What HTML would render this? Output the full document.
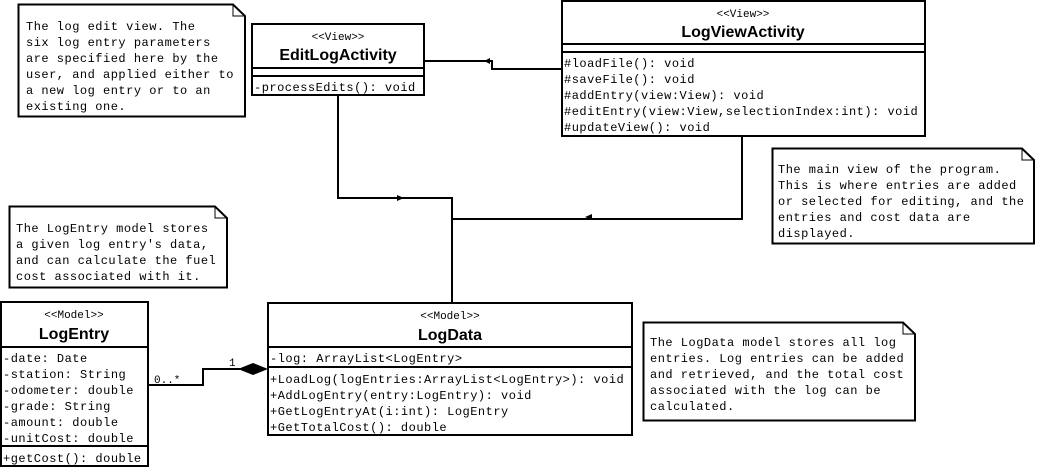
<!DOCTYPE html>
<html><head><meta charset="utf-8"><style>
html,body{margin:0;padding:0;background:#fff}
svg{display:block}
.m{font-family:"Liberation Mono",monospace;font-size:12px;letter-spacing:0.5px;fill:#000}
.s{font-family:"Liberation Mono",monospace;font-size:11px;fill:#000}
.n{font-family:"Liberation Sans Narrow","Liberation Sans",sans-serif;font-size:16px;font-weight:bold;fill:#000}
</style></head><body>
<svg width="1038" height="468" viewBox="0 0 1038 468" xmlns="http://www.w3.org/2000/svg">
<g fill="#fff" stroke="#000" stroke-width="2">
<path d="M18.5 4.5 H233 L245 16 V116.5 H18.5 Z"/>
<path d="M9.5 206.5 H215 L227 218 V287.5 H9.5 Z"/>
<path d="M772.5 148.5 H1022 L1034 160 V243.5 H772.5 Z"/>
<path d="M643.5 322.5 H903 L915 334 V420.5 H643.5 Z"/>
</g>
<g fill="none" stroke="#000" stroke-width="1">
<path d="M233 4.5 V16 H245"/><path d="M215 206.5 V218 H227"/>
<path d="M1022 148.5 V160 H1034"/><path d="M903 322.5 V334 H915"/>
</g>
<g fill="none" stroke="#000" stroke-width="2">
<path d="M562 69 H492 V61 H424"/>
<path d="M338 95 V198 H452 V303"/>
<path d="M742 135 V219 H452"/>
<path d="M148 385 H203 V369 H240"/>
</g>
<polygon points="484,58 490,61 484,64" fill="#000" transform="rotate(180 487 61)"/>
<polygon points="397,195 404,198 397,201" fill="#000"/>
<polygon points="592,216 585,219 592,222" fill="#000" transform="translate(0,-2)"/>
<polygon points="238,369 253,363 268,369 253,375" fill="#000"/>
<text class="s" x="154" y="383">0..*</text>
<text class="s" x="229" y="366">1</text>
<g fill="#fff" stroke="#000" stroke-width="2">
<rect x="252" y="24" width="172" height="71"/>
<rect x="562" y="1" width="363" height="135"/>
<rect x="1" y="302" width="147" height="164"/>
<rect x="268" y="303" width="364" height="132"/>
</g>
<g stroke="#000" stroke-width="2">
<line x1="252" y1="68" x2="424" y2="68"/><line x1="252" y1="76" x2="424" y2="76"/>
<line x1="562" y1="44" x2="925" y2="44"/><line x1="562" y1="52" x2="925" y2="52"/>
<line x1="1" y1="347" x2="148" y2="347"/><line x1="1" y1="446" x2="148" y2="446"/>
<line x1="268" y1="347" x2="632" y2="347"/><line x1="268" y1="367" x2="632" y2="367"/>
</g>
<g text-anchor="middle">
<text class="s" x="338" y="40">&lt;&lt;View&gt;&gt;</text><text class="n" x="338" y="60">EditLogActivity</text>
<text class="s" x="743" y="17">&lt;&lt;View&gt;&gt;</text><text class="n" x="743" y="37">LogViewActivity</text>
<text class="s" x="74" y="318">&lt;&lt;Model&gt;&gt;</text><text class="n" x="74" y="339">LogEntry</text>
<text class="s" x="450" y="319">&lt;&lt;Model&gt;&gt;</text><text class="n" x="450" y="340">LogData</text>
</g>
<g class="m">
<text x="254" y="91">-processEdits(): void</text>
<text x="564" y="67">#loadFile(): void</text>
<text x="564" y="83">#saveFile(): void</text>
<text x="564" y="99">#addEntry(view:View): void</text>
<text x="564" y="115">#editEntry(view:View,selectionIndex:int): void</text>
<text x="564" y="131">#updateView(): void</text>
<text x="3" y="362">-date: Date</text>
<text x="3" y="378">-station: String</text>
<text x="3" y="394">-odometer: double</text>
<text x="3" y="410">-grade: String</text>
<text x="3" y="426">-amount: double</text>
<text x="3" y="442">-unitCost: double</text>
<text x="3" y="462">+getCost(): double</text>
<text x="270" y="362">-log: ArrayList&lt;LogEntry&gt;</text>
<text x="270" y="383">+LoadLog(logEntries:ArrayList&lt;LogEntry&gt;): void</text>
<text x="270" y="399">+AddLogEntry(entry:LogEntry): void</text>
<text x="270" y="415">+GetLogEntryAt(i:int): LogEntry</text>
<text x="270" y="431">+GetTotalCost(): double</text>
<text x="26" y="30">The log edit view. The</text>
<text x="26" y="46">six log entry parameters</text>
<text x="26" y="62">are specified here by the</text>
<text x="26" y="78">user, and applied either to</text>
<text x="26" y="94">a new log entry or to an</text>
<text x="26" y="110">existing one.</text>
<text x="16" y="232">The LogEntry model stores</text>
<text x="16" y="248">a given log entry's data,</text>
<text x="16" y="264">and can calculate the fuel</text>
<text x="16" y="280">cost associated with it.</text>
<text x="778" y="173">The main view of the program.</text>
<text x="778" y="189">This is where entries are added</text>
<text x="778" y="205">or selected for editing, and the</text>
<text x="778" y="221">entries and cost data are</text>
<text x="778" y="237">displayed.</text>
<text x="650" y="346">The LogData model stores all log</text>
<text x="650" y="362">entries. Log entries can be added</text>
<text x="650" y="378">and retrieved, and the total cost</text>
<text x="650" y="394">associated with the log can be</text>
<text x="650" y="410">calculated.</text>
</g>
</svg>
</body></html>
